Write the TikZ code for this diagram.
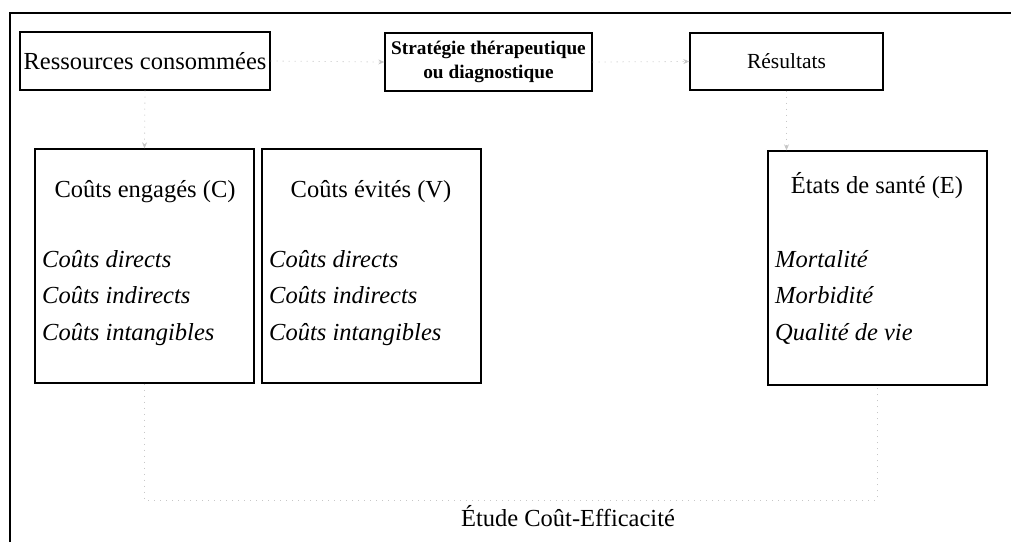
\documentclass[tikz,border=0pt]{standalone}
\usepackage{fontspec}
\setmainfont{Liberation Serif}
\usetikzlibrary{arrows.meta}

\tikzset{
  box/.style={draw=black, line width=1.4pt, inner sep=0pt, align=center},
  frameline/.style={draw=black, line width=1.6pt},
  faint/.style={draw=black!22, line width=0.8pt, dash pattern=on 1pt off 5pt},
  faintarrow/.style={faint, -{Stealth[length=6pt,width=5pt]}},
  head/.style={anchor=base, inner sep=0pt, font=\fontsize{24.5}{27}\selectfont},
  item/.style={anchor=base west, inner sep=0pt, font=\fontsize{24.5}{27}\selectfont\itshape},
}

\begin{document}
\begin{tikzpicture}[x=1pt, y=-1pt]
  \useasboundingbox (0,0) rectangle (1011,542);

  % outer frame (top and left edges)
  \draw[frameline] (10,542) -- (10,13) -- (1011,13);

  % top row
  \node[box, minimum width=250pt, minimum height=58pt,
        font=\fontsize{24.5}{28}\selectfont] (ress) at (145,61) {Ressources consommées};
  \node[box, minimum width=207pt, minimum height=58pt,
        font=\fontsize{19.3}{24}\selectfont\bfseries] (strat) at (488.5,62)
        {Stratégie thérapeutique\\ou diagnostique};
  \node[box, minimum width=193pt, minimum height=57pt,
        font=\fontsize{21.5}{24}\selectfont] (res) at (786.5,61.5) {Résultats};

  % cost and outcome boxes
  \node[box, minimum width=219pt, minimum height=234pt] (ceng) at (144.5,266) {};
  \node[box, minimum width=219pt, minimum height=234pt] (cevi) at (371.5,266) {};
  \node[box, minimum width=219pt, minimum height=234pt] (etat) at (877.5,268) {};

  % headings
  \node[head] (cengT) at (145,197) {Coûts engagés (C)};
  \node[head] (ceviT) at (371,197) {Coûts évités (V)};
  \node[head] (etatT) at (877,193) {États de santé (E)};

  % cost items
  \node[item] (c1) at (42,267) {Coûts directs};
  \node[item] (c2) at (42,303) {Coûts indirects};
  \node[item] (c3) at (42,340) {Coûts intangibles};
  \node[item] (v1) at (269,267) {Coûts directs};
  \node[item] (v2) at (269,303) {Coûts indirects};
  \node[item] (v3) at (269,340) {Coûts intangibles};
  \node[item] (e1) at (775,267) {Mortalité};
  \node[item] (e2) at (775,303) {Morbidité};
  \node[item] (e3) at (775,340) {Qualité de vie};

  % study label
  \node[anchor=base, inner sep=0pt, font=\fontsize{24.5}{27}\selectfont] (etude) at (568,526)
        {Étude Coût-Efficacité};

  % faint connectors
  \draw[faintarrow] (ress.east) -- (strat.west);
  \draw[faintarrow] (strat.east) -- (res.west);
  \draw[faintarrow] (ress.south) -- (ceng.north);
  \draw[faintarrow] (res.south) -- (res.south |- etat.north);
  \coordinate (bl) at (ceng.south |- 0,500);
  \coordinate (br) at (etat.south |- 0,500);
  \draw[faint] (ceng.south) -- (bl) -- (br) -- (etat.south);
\end{tikzpicture}
\end{document}
